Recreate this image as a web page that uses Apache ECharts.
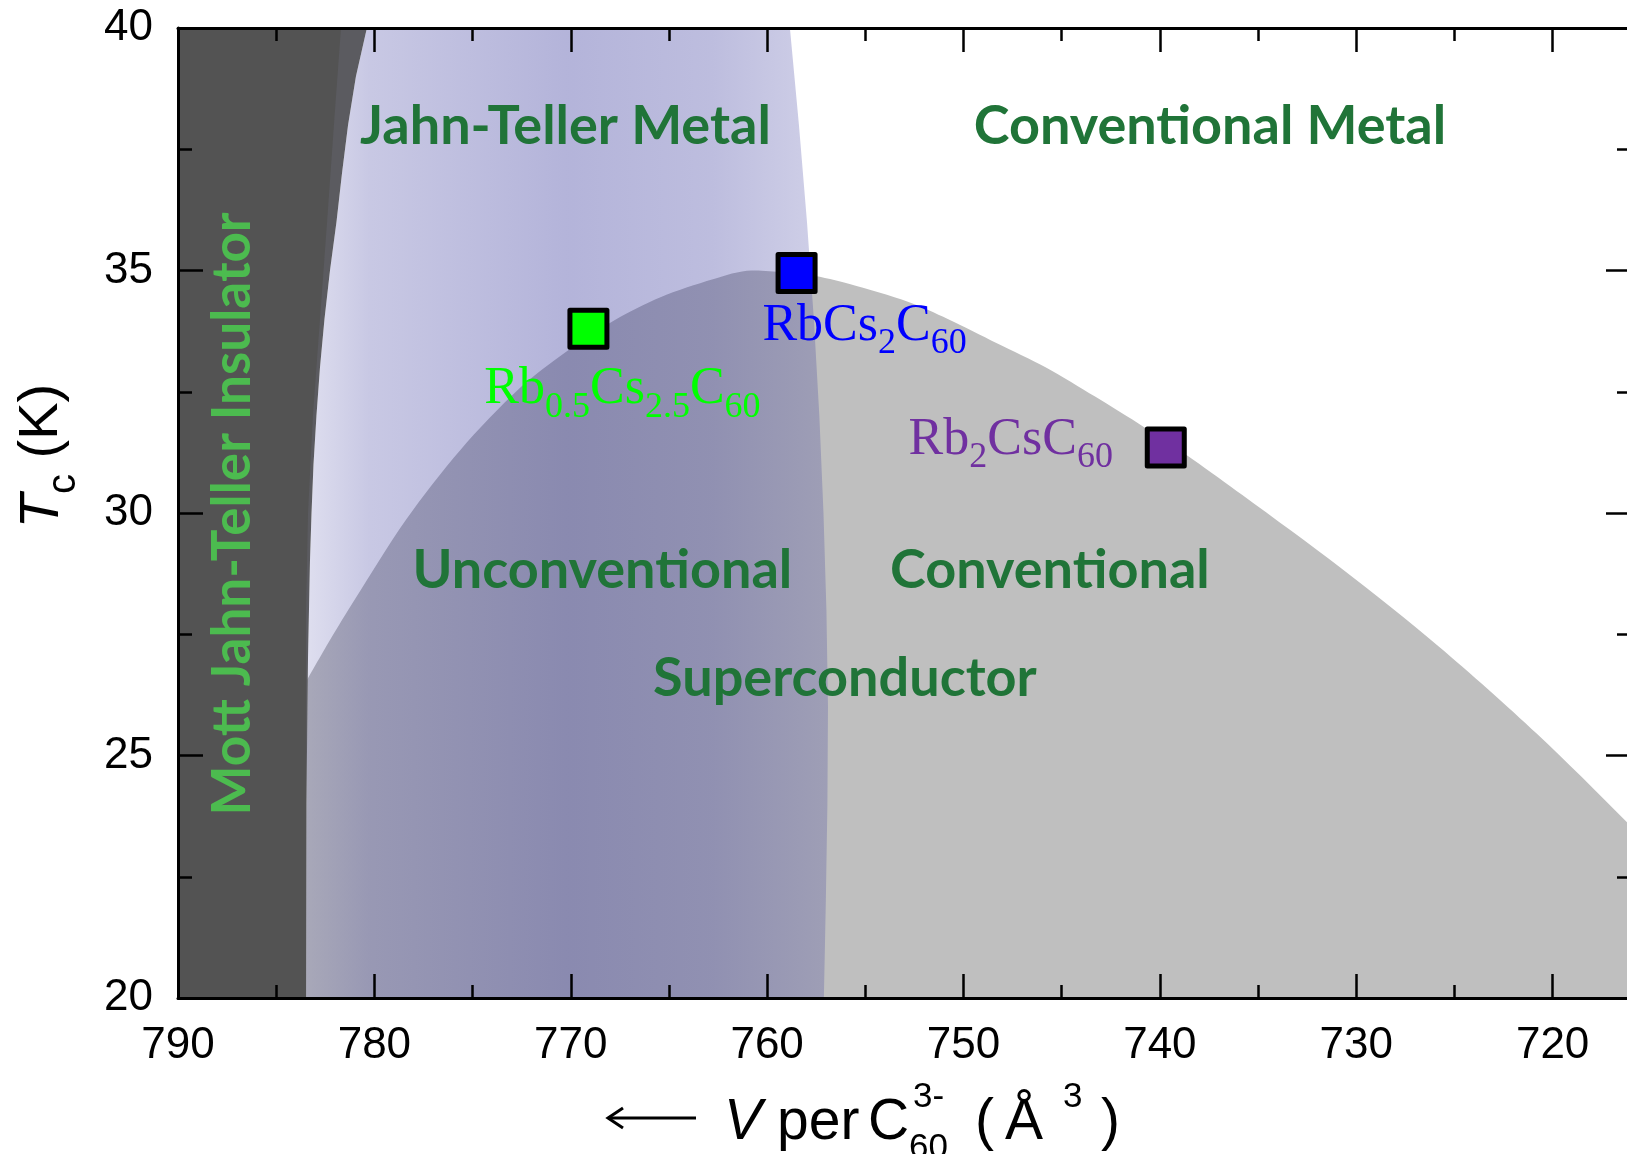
<!DOCTYPE html>
<html>
<head>
<meta charset="utf-8">
<title>C60 phase diagram</title>
<script src="https://cdn.jsdelivr.net/npm/echarts@6/dist/echarts.min.js"></script>
<style>
  html, body { margin: 0; padding: 0; background: #ffffff; }
  #chart { width: 1627px; height: 1154px; }
</style>
</head>
<body>
<div id="chart"></div>
<script>
// ---- axis settings (volume per C60^3- in Å^3, Tc in K) ----
const xTicks = [790, 780, 770, 760, 750, 740, 730, 720];
const yTicks = [20, 25, 30, 35, 40];

// Mott insulator / Jahn-Teller metal boundary, [V, Tc], bottom to top
const insulatorEdge = [
  [783.48, 20], [783.46, 24], [783.38, 27], [783.28, 29], [783.20, 30],
  [783.10, 31], [782.95, 32], [782.77, 33], [782.54, 34], [782.26, 35],
  [781.93, 36], [781.65, 37], [781.34, 38], [780.94, 39], [780.38, 40]
];
// inner edge of the soft shading along that boundary
const insulatorShade = [
  [783.48, 20], [783.48, 28], [783.38, 30], [783.13, 32], [782.77, 34],
  [782.41, 36], [782.06, 38], [781.70, 40]
];
// Jahn-Teller metal / conventional metal crossover, top to bottom
const jahnTellerEdge = [
  [758.84, 40], [758.38, 38], [757.97, 36], [757.62, 34], [757.34, 32],
  [757.13, 30], [756.98, 28], [756.90, 26], [756.93, 24], [757.01, 22],
  [757.11, 20]
];
// superconducting dome, Tc(V), left to right
const domeEdge = [
  [783.48, 26.52], [782.26, 27.38], [780.99, 28.22], [778.39, 29.86],
  [775.62, 31.30], [772.58, 32.58], [770.25, 33.32], [767.75, 33.98],
  [765.43, 34.45], [762.76, 34.82], [760.80, 35.00], [757.80, 34.90],
  [755.80, 34.72], [752.80, 34.35], [750.80, 34.00], [748.30, 33.50],
  [745.80, 33.00], [743.30, 32.40], [740.80, 31.77], [738.30, 31.10],
  [735.80, 30.37], [730.80, 28.87], [725.80, 27.25], [720.80, 25.45],
  [715.80, 23.45], [710.80, 21.27], [709.80, 20.80]
];

// compounds: name, V, Tc, colour
const compoundNames = ['Rb0.5Cs2.5C60', 'RbCs2C60', 'Rb2CsC60'];
const compoundV = [769.1, 758.5, 739.7];
const compoundTc = [33.8, 34.95, 31.35];
const compoundColors = ['#00ff00', '#0000ff', '#7030a0'];
const compoundRich = [
  '{m|Rb}{s|0.5}{m|Cs}{s|2.5}{m|C}{s|60}',
  '{m|RbCs}{s|2}{m|C}{s|60}',
  '{m|Rb}{s|2}{m|CsC}{s|60}'
];
const compoundLabelOffset = [[34, 61], [68, 53], [-155, -7]];

// phase names, anchored in data coordinates
const phaseNames = ['Jahn-Teller Metal', 'Conventional Metal', 'Unconventional',
  'Conventional', 'Superconductor', 'Mott Jahn-Teller Insulator'];
const phaseV = [770.27, 737.45, 768.39, 745.6, 756.04, 787.2];
const phaseTc = [37.96, 37.96, 28.82, 28.82, 26.58, 29.98];

const chart = echarts.init(document.getElementById('chart'), null, { renderer: 'canvas' });

function polygonSeries(points, fill, z) {
  return {
    type: 'custom',
    coordinateSystem: 'cartesian2d',
    silent: true,
    z: z,
    data: [[770, 30]],
    renderItem: function (params, api) {
      return {
        type: 'polygon',
        shape: { points: points.map(function (p) { return api.coord(p); }) },
        style: { fill: fill, stroke: null }
      };
    }
  };
}

const jtPolygon = insulatorEdge.concat(jahnTellerEdge);
const insulatorPolygon = [[790, 20], [790, 40]].concat(insulatorEdge.slice().reverse());
const insulatorCore = [[790, 20], [790, 40]].concat(insulatorShade.slice().reverse());

const lavender = new echarts.graphic.LinearGradient(0, 0, 1, 0, [
  { offset: 0.00, color: 'rgba(37,37,147,0.15)' },
  { offset: 0.12, color: 'rgba(37,37,147,0.25)' },
  { offset: 0.50, color: 'rgba(37,37,147,0.345)' },
  { offset: 0.78, color: 'rgba(37,37,147,0.30)' },
  { offset: 1.00, color: 'rgba(37,37,147,0.21)' }
]);

const tickFont = { fontFamily: 'Liberation Sans', fontSize: 44, color: '#000' };
const axisLineStyle = { color: '#000', width: 3 };

const commonX = {
  type: 'value', min: 710, max: 790, interval: 10, inverse: true,
  z: 8, splitLine: { show: false },
  axisLine: { show: true, onZero: false, lineStyle: axisLineStyle },
  axisTick: { show: true, inside: true, length: 24, lineStyle: { color: '#000', width: 2.5 } },
  minorTick: { show: true, splitNumber: 2, length: 13, lineStyle: { color: '#000', width: 2.5 } }
};
const commonY = {
  type: 'value', min: 20, max: 40, interval: 5,
  z: 8, splitLine: { show: false },
  axisLine: { show: true, onZero: false, lineStyle: axisLineStyle },
  axisTick: { show: true, inside: true, length: 25, lineStyle: { color: '#000', width: 2.5 } },
  minorTick: { show: true, splitNumber: 2, length: 14, lineStyle: { color: '#000', width: 2.5 } }
};

const sansText = function (text, x, y, size, extra) {
  return {
    type: 'text', x: x, y: y, z: 10,
    style: Object.assign({ text: text, fontFamily: 'Liberation Sans', fontSize: size,
      fill: '#000', align: 'left', verticalAlign: 'middle' }, extra || {})
  };
};

const option = {
  backgroundColor: '#ffffff',
  animation: false,
  grid: { left: 178, top: 28, right: -122, bottom: 156, containLabel: false, outerBoundsMode: 'none' },
  xAxis: [
    Object.assign({}, commonX, {
      position: 'bottom',
      axisLabel: Object.assign({ margin: 26 }, tickFont)
    }),
    Object.assign({}, commonX, { position: 'top', axisLabel: { show: false } })
  ],
  yAxis: [
    Object.assign({}, commonY, {
      position: 'left',
      axisLabel: Object.assign({ margin: 25 }, tickFont)
    }),
    Object.assign({}, commonY, { position: 'right', offset: -118, axisLabel: { show: false } })
  ],
  series: [
    {
      // superconducting dome
      type: 'line', z: 1, silent: true, smooth: 0.3, symbol: 'none',
      data: domeEdge,
      lineStyle: { width: 0, opacity: 0 },
      areaStyle: { color: '#bfbfbf', opacity: 1, origin: 'start' }
    },
    polygonSeries(jtPolygon, lavender, 2),
    polygonSeries(insulatorPolygon, '#5b5b60', 3),
    polygonSeries(insulatorCore, '#535353', 4),
    {
      // phase names
      type: 'scatter', z: 6, silent: true, symbolSize: 0,
      itemStyle: { opacity: 1 },
      data: phaseNames.map(function (n, i) {
        const isMott = i === 5;
        return {
          name: n, value: [phaseV[i], phaseTc[i]],
          label: {
            show: true, position: 'inside', formatter: '{b}', opacity: 1,
            rotate: isMott ? 90 : 0,
            fontFamily: 'Lato', fontWeight: 'bold', fontSize: isMott ? 53 : 54,
            color: isMott ? '#4cbb4f' : '#207438'
          }
        };
      })
    },
    {
      // compounds
      type: 'scatter', z: 7, silent: true, symbol: 'rect', symbolSize: 37,
      data: compoundNames.map(function (n, i) {
        return {
          name: n, value: [compoundV[i], compoundTc[i]],
          itemStyle: { color: compoundColors[i], opacity: 1, borderColor: '#000', borderWidth: 5, borderJoin: 'round' },
          label: {
            show: true, position: 'inside', offset: compoundLabelOffset[i], opacity: 1,
            formatter: compoundRich[i],
            rich: {
              m: { fontFamily: 'Liberation Serif', fontSize: 52, lineHeight: 58, color: compoundColors[i] },
              s: { fontFamily: 'Liberation Serif', fontSize: 36, lineHeight: 58, padding: [35, 0, 0, 0], color: compoundColors[i] }
            }
          }
        };
      })
    }
  ],
  graphic: [
    // arrow in front of the x-axis title
    { type: 'line', shape: { x1: 608, y1: 1118, x2: 696, y2: 1118 }, style: { stroke: '#000', lineWidth: 3 } },
    { type: 'polyline', shape: { points: [[623, 1108], [608, 1118], [623, 1128]] }, style: { stroke: '#000', lineWidth: 3, fill: null } },
    // x-axis title: V per C60^3- (Å^3)
    sansText('V', 724, 1123, 57, { fontStyle: 'italic' }),
    sansText('per', 777, 1123, 57),
    sansText('C', 868, 1123, 57),
    sansText('60', 909, 1148, 35),
    sansText('3-', 913, 1097, 35),
    sansText('(', 975, 1123, 57),
    sansText('Å', 1005, 1123, 57),
    sansText('3', 1063, 1097, 35),
    sansText(')', 1101, 1123, 57),
    // y-axis title
    { type: 'text', x: 42, y: 456, rotation: Math.PI / 2, style: {
        text: '{i|T}{s|c}{n| (K)}', align: 'center', verticalAlign: 'middle',
        rich: {
          i: { fontFamily: 'Liberation Sans', fontStyle: 'italic', fontSize: 56, lineHeight: 60, fill: '#000' },
          s: { fontFamily: 'Liberation Sans', fontSize: 40, lineHeight: 60, padding: [44, 0, 0, 0], fill: '#000' },
          n: { fontFamily: 'Liberation Sans', fontSize: 56, lineHeight: 60, fill: '#000' }
        } } }
  ]
};

chart.setOption(option);
</script>
</body>
</html>
